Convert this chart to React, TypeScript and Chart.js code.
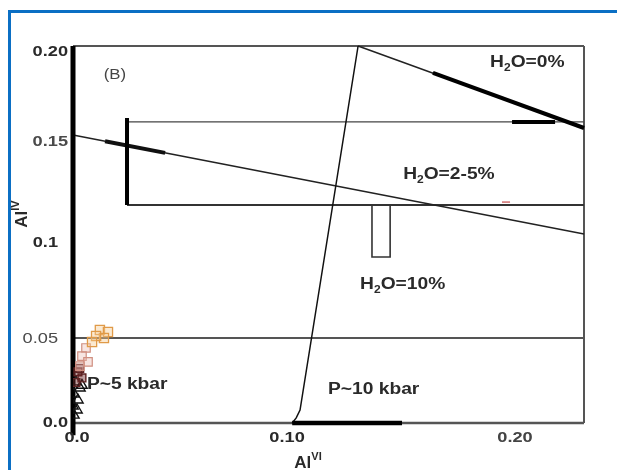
import React, { useEffect, useRef } from "react";
import { Chart, registerables } from "chart.js";

Chart.register(...registerables);

// ---------- axis ranges ----------
const X_MAX = 0.228;
const Y_MAX = 0.2;

// ---------- tick labels (value where the label sits, text) ----------
const xTickValues = [0.0018, 0.0955, 0.1972];
const xTickLabels = ["0.0", "0.10", "0.20"];
const yTickValues = [0.1968, 0.1490, 0.0955, 0.0446, 0.0];
const yTickLabels = ["0.20", "0.15", "0.1", "0.05", "0.0"];

// ---------- sample points [AlVI, AlIV] ----------
const orangeSquares = [
  [0.0120, 0.0493], [0.0156, 0.0483], [0.0138, 0.0451], [0.0103, 0.0462], [0.0085, 0.0430],
];
const pinkSquares = [
  [0.0058, 0.0398], [0.0040, 0.0355], [0.0067, 0.0324], [0.0031, 0.0302],
];
const brownSquares = [
  [0.0022, 0.0271], [0.0040, 0.0239], [0.0013, 0.0215], [0.0030, 0.0290],
];
const triangles = [
  [0.0013, 0.0218], [0.0031, 0.0186], [0.0004, 0.0154], [0.0022, 0.0122],
  [0.0000, 0.0090], [0.0018, 0.0069], [0.0004, 0.0042], [0.0040, 0.0200],
];

// ---------- line work [AlVI, AlIV] ----------
const frameTop = [[0, 0.2], [X_MAX, 0.2]];
const frameRight = [[X_MAX, 0.2], [X_MAX, 0]];
const frameBottom = [[0, 0], [X_MAX, 0]];
const leftAxis = [[0, -0.0065], [0, 0.2]];
const pressureLine = [[0.0978, 0], [0.0996, 0.0027], [0.1013, 0.0069], [0.1272, 0.2]];
const water0Line = [[0.1272, 0.2], [X_MAX, 0.1565]];
const water0Thick = [[0.1606, 0.1857], [X_MAX, 0.1565]];
const upperHorizontal = [[0.0241, 0.1597], [X_MAX, 0.1597]];
const upperHorizontalThick = [[0.1959, 0.1597], [0.2151, 0.1597]];
const boxVertical = [[0.0241, 0.1618], [0.0241, 0.1156]];
const lowerHorizontal = [[0.0241, 0.1156], [X_MAX, 0.1156]];
const notch = [[0.1334, 0.1156], [0.1334, 0.0881], [0.1415, 0.0881], [0.1415, 0.1156]];
const water25Line = [[0, 0.1528], [X_MAX, 0.1003]];
const water25Thick = [[0.0143, 0.1495], [0.0411, 0.1433]];
const line005 = [[0, 0.0451], [X_MAX, 0.0451]];
const bottomThick = [[0.0978, 0], [0.1468, 0]];
const redMark = [[0.1914, 0.1172], [0.1950, 0.1172]];

// ---------- annotations ----------
type Part = { t: string; sub?: boolean; sup?: boolean };
const annotations: { parts: Part[]; x: number; y: number; align: string; weight: string; size: number; color: string }[] = [
  { parts: [{ t: "(B)" }], x: 0.0187, y: 0.1846, align: "center", weight: "normal", size: 14, color: "#444" },
  { parts: [{ t: "H" }, { t: "2", sub: true }, { t: "O=0%" }], x: 0.1861, y: 0.191, align: "left", weight: "bold", size: 16, color: "#2a2a2a" },
  { parts: [{ t: "H" }, { t: "2", sub: true }, { t: "O=2-5%" }], x: 0.1473, y: 0.1316, align: "left", weight: "bold", size: 16, color: "#2a2a2a" },
  { parts: [{ t: "H" }, { t: "2", sub: true }, { t: "O=10%" }], x: 0.1281, y: 0.0732, align: "left", weight: "bold", size: 16, color: "#2a2a2a" },
  { parts: [{ t: "P~5 kbar" }], x: 0.0062, y: 0.0202, align: "left", weight: "bold", size: 16, color: "#2a2a2a" },
  { parts: [{ t: "P~10 kbar" }], x: 0.1138, y: 0.0175, align: "left", weight: "bold", size: 16, color: "#2a2a2a" },
];

const FONT = '"Liberation Sans", Arial, sans-serif';

function drawRich(
  ctx: CanvasRenderingContext2D,
  parts: Part[],
  px: number,
  py: number,
  o: { size: number; weight: string; color: string; sx: number; align: string; rotate?: number }
) {
  ctx.save();
  ctx.translate(px, py);
  if (o.rotate) ctx.rotate(o.rotate);
  ctx.scale(o.sx, 1);
  const fontFor = (p: Part) =>
    `${o.weight} ${p.sub || p.sup ? Math.round(o.size * 0.62) : o.size}px ${FONT}`;
  let total = 0;
  for (const p of parts) {
    ctx.font = fontFor(p);
    total += ctx.measureText(p.t).width;
  }
  let cx = o.align === "left" ? 0 : o.align === "right" ? -total : -total / 2;
  ctx.fillStyle = o.color;
  ctx.textBaseline = "middle";
  ctx.textAlign = "left";
  for (const p of parts) {
    ctx.font = fontFor(p);
    const dy = p.sub ? o.size * 0.34 : p.sup ? -o.size * 0.38 : 0;
    ctx.fillText(p.t, cx, dy);
    cx += ctx.measureText(p.t).width;
  }
  ctx.restore();
}

const textPlugin = {
  id: "scanTexts",
  afterDatasetsDraw(chart: any) {
    const { ctx } = chart;
    const xs = chart.scales.x;
    const ys = chart.scales.y;
    for (const a of annotations) {
      drawRich(ctx, a.parts, xs.getPixelForValue(a.x), ys.getPixelForValue(a.y), {
        size: a.size, weight: a.weight, color: a.color, sx: 1.2, align: a.align,
      });
    }
    yTickLabels.forEach((lab, i) => {
      const right = lab === "0.1" || lab === "0.05" ? xs.left - 15 : xs.left - 5;
      drawRich(ctx, [{ t: lab }], right, ys.getPixelForValue(yTickValues[i]), {
        size: 14, weight: lab === "0.05" ? "normal" : "bold",
        color: lab === "0.05" || lab === "0.15" ? "#4a4a4a" : "#2a2a2a", sx: 1.3, align: "right",
      });
    });
    xTickLabels.forEach((lab, i) => {
      drawRich(ctx, [{ t: lab }], xs.getPixelForValue(xTickValues[i]), ys.bottom + 15, {
        size: 14, weight: "bold", color: lab === "0.20" ? "#444" : "#2a2a2a", sx: 1.3, align: "center",
      });
    });
    drawRich(ctx, [{ t: "Al" }, { t: "VI", sup: true }], 308, ys.bottom + 40, {
      size: 17, weight: "bold", color: "#2a2a2a", sx: 1.0, align: "center",
    });
    drawRich(ctx, [{ t: "Al" }, { t: "IV", sup: true }], 22, 214, {
      size: 17, weight: "bold", color: "#2a2a2a", sx: 1.0, align: "center", rotate: -Math.PI / 2,
    });
  },
};

const toXY = (arr: number[][]) => arr.map(([x, y]) => ({ x, y }));

function line(data: number[][], color: string, width: number, extra: any = {}) {
  return {
    data: toXY(data),
    showLine: true,
    borderColor: color,
    backgroundColor: color,
    borderWidth: width,
    pointRadius: 0,
    fill: false,
    ...extra,
  };
}

export default function App() {
  const ref = useRef<HTMLCanvasElement | null>(null);
  useEffect(() => {
    if (!ref.current) return;
    const chart = new Chart(ref.current, {
      type: "scatter",
      data: {
        datasets: [
          {
            data: toXY(orangeSquares), pointStyle: "rect", pointRadius: 6.5,
            borderColor: "#e09a48", backgroundColor: "rgba(245,200,140,0.4)", borderWidth: 1.3,
          },
          {
            data: toXY(pinkSquares), pointStyle: "rect", pointRadius: 6,
            borderColor: "#d08f80", backgroundColor: "rgba(235,190,180,0.4)", borderWidth: 1.2,
          },
          {
            data: toXY(brownSquares), pointStyle: "rect", pointRadius: 5.5,
            borderColor: "#5e2222", backgroundColor: "rgba(110,40,40,0.45)", borderWidth: 1.4,
          },
          {
            data: toXY(triangles), pointStyle: "triangle", pointRadius: 6,
            borderColor: "#111", backgroundColor: "rgba(255,255,255,0)", borderWidth: 1.4,
          },
          line(leftAxis, "#000", 5, { clip: false }),
          line(boxVertical, "#000", 4),
          line(bottomThick, "#000", 4.5, { clip: false }),
          line(water0Thick, "#000", 4, { clip: false }),
          line(upperHorizontalThick, "#000", 4),
          line(water25Thick, "#111", 4),
          line(pressureLine, "#111", 1.5, { clip: false }),
          line(water0Line, "#222", 1.5, { clip: false }),
          line(water25Line, "#222", 1.5, { clip: false }),
          line(upperHorizontal, "#444", 1.2, { clip: false }),
          line(lowerHorizontal, "#333", 2, { clip: false }),
          line(notch, "#333", 1.6),
          line(line005, "#555", 2, { clip: false }),
          line(redMark, "#d27070", 1.5),
          line(frameTop, "#555", 2, { clip: false }),
          line(frameRight, "#555", 2, { clip: false }),
          line(frameBottom, "#555", 2.5, { clip: false }),
        ] as any,
      },
      options: {
        responsive: false,
        animation: false,
        events: [],
        layout: { padding: { left: 73, right: 33, top: 46, bottom: 47 } },
        scales: {
          x: { type: "linear", min: 0, max: X_MAX, display: false },
          y: { type: "linear", min: 0, max: Y_MAX, display: false },
        },
        plugins: { legend: { display: false }, tooltip: { enabled: false } },
      },
      plugins: [textPlugin],
    });
    return () => chart.destroy();
  }, []);

  return (
    <div style={{ position: "fixed", left: 0, top: 0, width: 617, height: 470, background: "#fff", overflow: "hidden" }}>
      <canvas ref={ref} width={617} height={470} style={{ position: "absolute", left: 0, top: 0, width: 617, height: 470 }} />
      <div style={{ position: "absolute", left: 8, top: 10, width: 3, height: 460, background: "#0b6fc4" }} />
      <div style={{ position: "absolute", left: 8, top: 10, width: 609, height: 3, background: "#0b6fc4" }} />
    </div>
  );
}
